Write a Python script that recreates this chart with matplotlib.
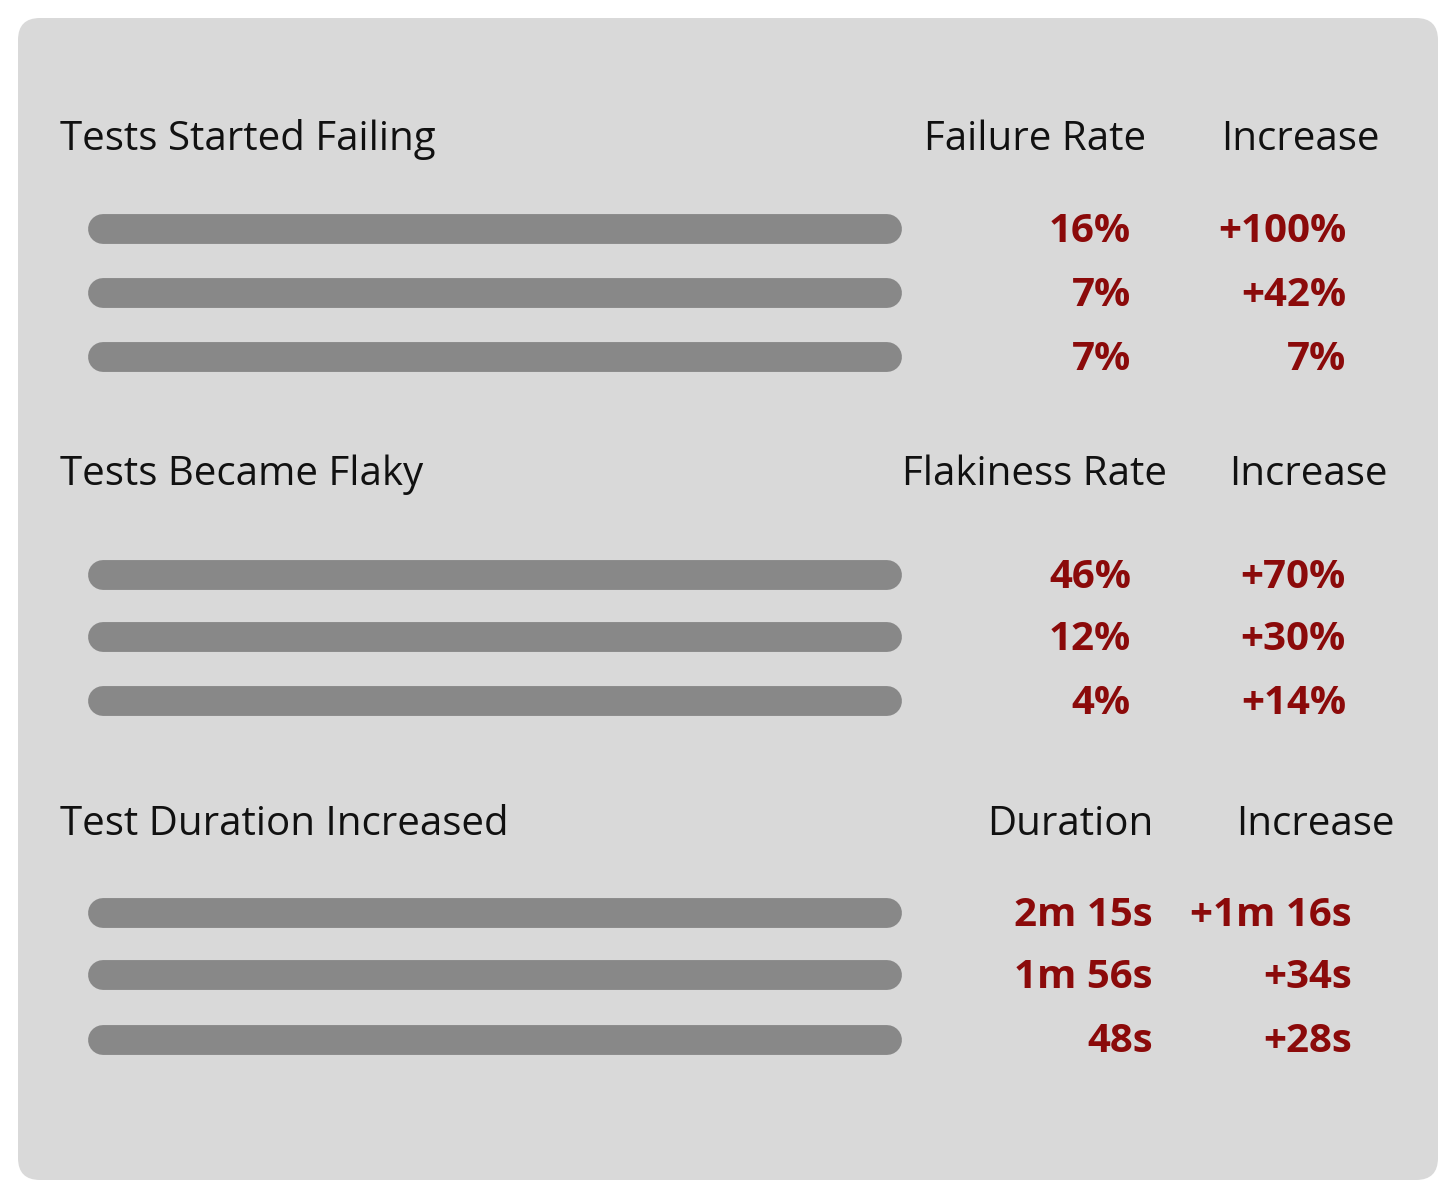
import matplotlib.pyplot as plt
from matplotlib.patches import FancyBboxPatch

plt.rcParams['font.family'] = ['Open Sans', 'DejaVu Sans']

titles = ['Tests Started Failing', 'Tests Became Flaky', 'Test Duration Increased']
col1_names = ['Failure Rate', 'Flakiness Rate', 'Duration']
col2_names = ['Increase', 'Increase', 'Increase']
col1_values = [['16%', '7%', '7%'], ['46%', '12%', '4%'], ['2m 15s', '1m 56s', '48s']]
col2_values = [['+100%', '+42%', '7%'], ['+70%', '+30%', '+14%'], ['+1m 16s', '+34s', '+28s']]
bar_length = [[1, 1, 1], [1, 1, 1], [1, 1, 1]]

# layout in pixels
header_y = [140, 475, 825]
row_y = [[229, 293, 357], [575, 637, 701], [913, 975, 1040]]
head1_x = [1035, 1035, 1070]
head2_x = [1300, 1308, 1315]
val1_right = [1131, 1131, 1153]
val2_right = [1346, 1346, 1352]
red = '#8b0a0a'

fig = plt.figure(figsize=(14.56, 11.98), dpi=100)
ax = fig.add_axes([0, 0, 1, 1])
ax.set_xlim(0, 1456)
ax.set_ylim(1198, 0)
ax.axis('off')

ax.add_patch(FancyBboxPatch((18, 18), 1420, 1162, boxstyle='round,pad=0,rounding_size=22',
                            fc='#d9d9d9', ec='none'))

for s in range(3):
    ax.text(60, header_y[s], titles[s], fontsize=29, va='center', ha='left', color='#111111')
    ax.text(head1_x[s], header_y[s], col1_names[s], fontsize=29, va='center', ha='center', color='#111111')
    ax.text(head2_x[s], header_y[s], col2_names[s], fontsize=29, va='center', ha='center', color='#111111')
    for i, y in enumerate(row_y[s]):
        ax.plot([103, 103 + 784 * bar_length[s][i]], [y, y], color='#888888', lw=21.5,
                solid_capstyle='round')
        ax.text(val1_right[s], y + 2, col1_values[s][i], fontsize=29, fontweight='bold',
                va='center', ha='right', color=red)
        ax.text(val2_right[s], y + 2, col2_values[s][i], fontsize=29, fontweight='bold',
                va='center', ha='right', color=red)

fig.savefig('out.png', dpi=100, facecolor='white')
